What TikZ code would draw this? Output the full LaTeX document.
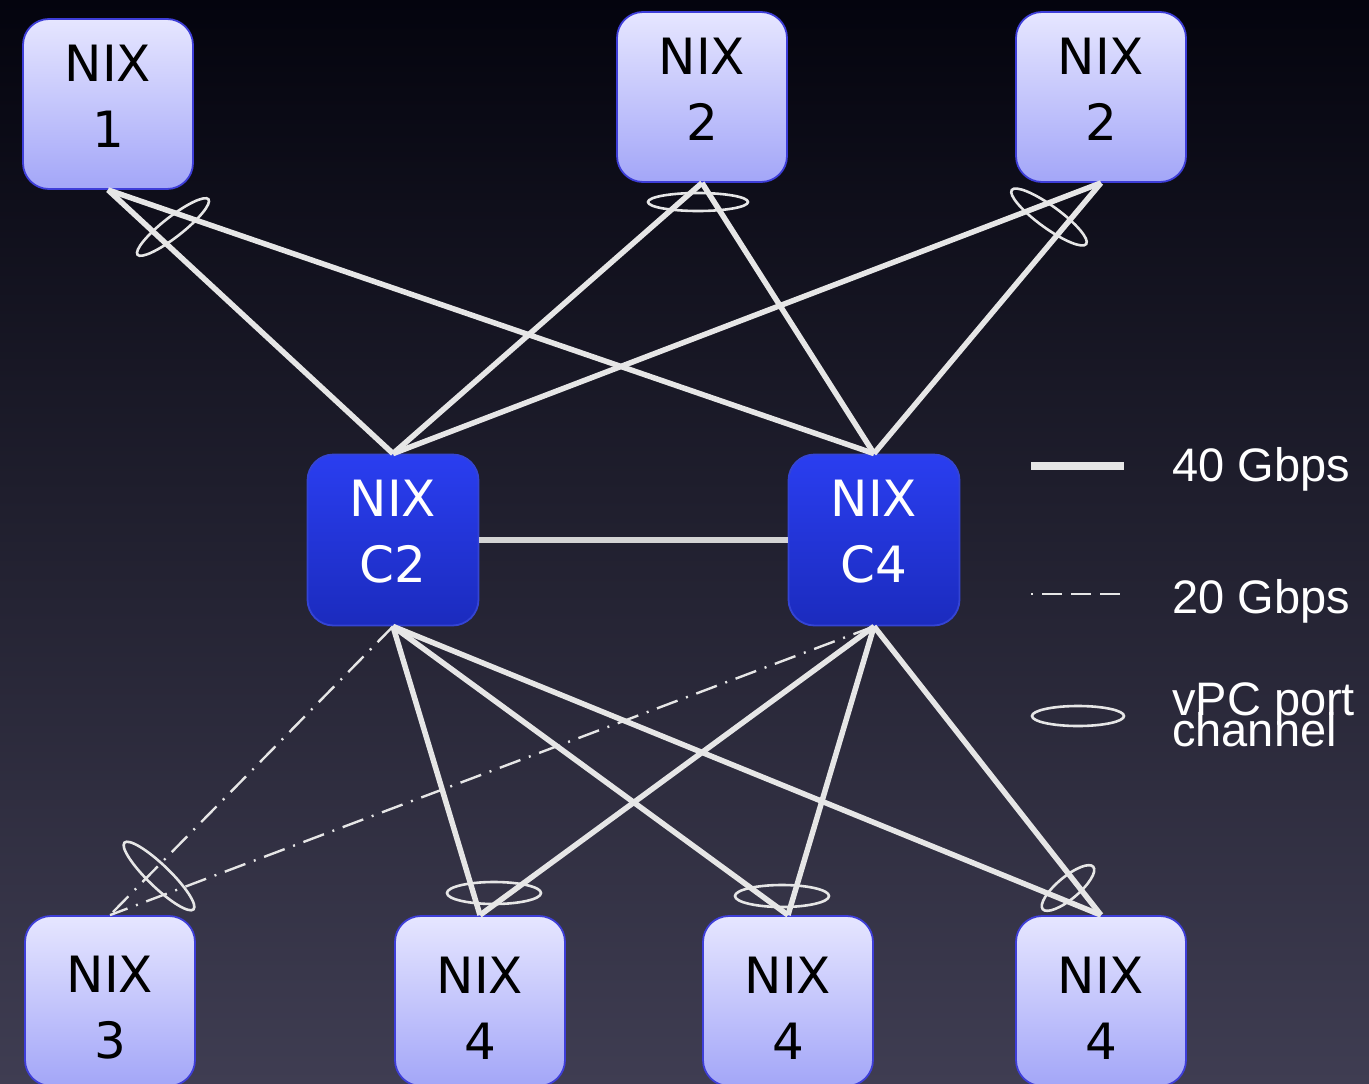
\documentclass[tikz,border=0pt]{standalone}
\usepackage{fontspec}
\setmainfont{DejaVu Sans}
\newfontfamily\legendfont{Liberation Sans}
\definecolor{bgtop}{HTML}{04040E}
\definecolor{bgbot}{HTML}{3F3D52}
\definecolor{lighttop}{HTML}{E6E6FF}
\definecolor{lightbot}{HTML}{A3A6F8}
\definecolor{lightborder}{HTML}{3E3ED8}
\definecolor{coretop}{HTML}{2A3EF0}
\definecolor{corebot}{HTML}{1B2BBE}
\definecolor{coreborder}{HTML}{3444D4}
\definecolor{linkgray}{HTML}{E6E6E6}
\begin{document}
\begin{tikzpicture}[x=1pt,y=-1pt,
  nixbox/.style={draw=lightborder, line width=1.8pt, rounded corners=26pt,
    minimum width=170pt, minimum height=170pt, inner sep=0pt,
    top color=lighttop, bottom color=lightbot},
  corebox/.style={draw=coreborder, line width=1.8pt, rounded corners=26pt,
    minimum width=171pt, minimum height=171pt, inner sep=0pt,
    top color=coretop, bottom color=corebot},
  nixlabel/.style={align=center, inner sep=0pt, text=black,
    font=\fontsize{50}{66}\selectfont},
  corelabel/.style={nixlabel, text=white},
  link/.style={draw=linkgray, line width=5.5pt},
  slowlink/.style={draw=linkgray, line width=2.4pt, dash pattern=on 22pt off 9pt on 2pt off 9pt},
  vpc/.style={draw=linkgray, line width=2.6pt},
  legtext/.style={anchor=base west, inner sep=0pt, text=white,
    font=\legendfont\fontsize{47}{47}\selectfont}
]
% background
\fill[top color=bgtop, bottom color=bgbot] (0,0) rectangle (1369,1084);
\useasboundingbox (0,0) rectangle (1369,1084);

% nodes
\node[nixbox] (n1) at (108,104) {};
\node[nixbox] (n2a) at (702,97) {};
\node[nixbox] (n2b) at (1101,97) {};
\node[corebox] (c2) at (393,540) {};
\node[corebox] (c4) at (874,540) {};
\node[nixbox] (n3) at (110,1001) {};
\node[nixbox] (n4a) at (480,1001) {};
\node[nixbox] (n4b) at (788,1001) {};
\node[nixbox] (n4c) at (1101,1001) {};

% links
\draw[link] (n1.south) -- (c2.north);
\draw[link] (n1.south) -- (c4.north);
\draw[link] (n2a.south) -- (c2.north);
\draw[link] (n2a.south) -- (c4.north);
\draw[link] (n2b.south) -- (c2.north);
\draw[link] (n2b.south) -- (c4.north);
\draw[link, draw=linkgray!92!black] (c2.east) -- (c4.west);
\draw[link] (c2.south) -- (n4a.north);
\draw[link] (c2.south) -- (n4b.north);
\draw[link] (c2.south) -- (n4c.north);
\draw[link] (c4.south) -- (n4a.north);
\draw[link] (c4.south) -- (n4b.north);
\draw[link] (c4.south) -- (n4c.north);
\draw[slowlink] (c2.south) -- (n3.north);
\draw[slowlink] (c4.south) -- (n3.north);

% vPC port channels
\draw[vpc, shift={(173,227)}, rotate=38] (0,0) ellipse (45pt and 10pt);
\draw[vpc, shift={(698,202)}] (0,0) ellipse (50pt and 9pt);
\draw[vpc, shift={(1049,217)}, rotate=-36] (0,0) ellipse (46pt and 11pt);
\draw[vpc, shift={(159,876)}, rotate=-44] (0,0) ellipse (48pt and 11pt);
\draw[vpc, shift={(494,893)}] (0,0) ellipse (47pt and 11pt);
\draw[vpc, shift={(782,896)}] (0,0) ellipse (47pt and 11pt);
\draw[vpc, shift={(1068,888)}, rotate=40] (0,0) ellipse (33pt and 11pt);

% labels
\node[nixlabel] (n1t) at ([yshift=8pt]n1.center) {NIX\\1};
\node[nixlabel] (n2at) at ([yshift=8pt]n2a.center) {NIX\\2};
\node[nixlabel] (n2bt) at ([yshift=8pt]n2b.center) {NIX\\2};
\node[corelabel] (c2t) at ([yshift=8pt]c2.center) {NIX\\C2};
\node[corelabel] (c4t) at ([yshift=8pt]c4.center) {NIX\\C4};
\node[nixlabel] (n3t) at ([yshift=-7pt]n3.center) {NIX\\3};
\node[nixlabel] (n4at) at ([yshift=-7pt]n4a.center) {NIX\\4};
\node[nixlabel] (n4bt) at ([yshift=-7pt]n4b.center) {NIX\\4};
\node[nixlabel] (n4ct) at ([yshift=-7pt]n4c.center) {NIX\\4};

% legend
\draw[draw=linkgray, line width=8pt] (1031,466) -- (1124,466);
\draw[draw=linkgray, line width=2pt, dash pattern=on 2pt off 9pt on 20pt off 9pt on 20pt off 9pt on 20pt off 9pt] (1031,594) -- (1124,594);
\draw[vpc, shift={(1078,716)}] (0,0) ellipse (46pt and 10pt);
\node[legtext] (l40) at (1172,481) {40 Gbps};
\node[legtext] (l20) at (1172,613) {20 Gbps};
\node[legtext] (lvpc1) at (1172,715) {vPC port};
\node[legtext] (lvpc2) at (1172,746) {channel};
\end{tikzpicture}
\end{document}
